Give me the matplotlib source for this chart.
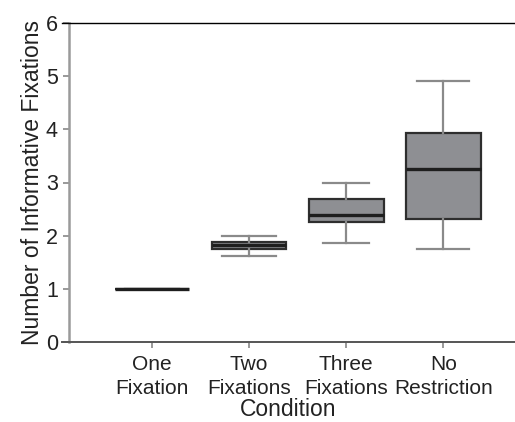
import matplotlib
matplotlib.use("Agg")
import matplotlib.pyplot as plt

# condition names and box statistics
conditions = ["One\nFixation", "Two\nFixations", "Three\nFixations", "No\nRestriction"]
whisker_lo = [1.00, 1.62, 1.87, 1.75]
q1 = [1.00, 1.75, 2.26, 2.32]
median = [1.00, 1.83, 2.39, 3.25]
q3 = [1.00, 1.89, 2.69, 3.94]
whisker_hi = [1.00, 2.00, 2.99, 4.90]

plt.rcParams['font.family'] = ['Liberation Sans', 'DejaVu Sans']

fig = plt.figure(figsize=(5.15, 4.22), dpi=100)
ax = fig.add_axes([62 / 515, 1 - 342 / 422, 1 - 62 / 515, (342 - 23) / 422])

stats = []
for i in range(len(conditions)):
    stats.append({"whislo": whisker_lo[i], "q1": q1[i], "med": median[i],
                  "q3": q3[i], "whishi": whisker_hi[i], "fliers": []})

pos = list(range(1, len(conditions) + 1))
ax.bxp(stats, positions=pos, widths=0.77, patch_artist=True, showfliers=False,
       boxprops=dict(facecolor="#8e8f93", edgecolor="#2e2e2e", linewidth=1.6),
       medianprops=dict(color="#1e1e1e", linewidth=2.4),
       whiskerprops=dict(color="#8a8a8a", linewidth=1.6),
       capprops=dict(color="#8a8a8a", linewidth=1.6),
       capwidths=[0.55, 0.55, 0.48, 0.53])

ax.set_xlim(0.072, 4.74)
ax.set_ylim(0, 6)
ax.set_xticks(pos)
ax.set_xticklabels(conditions, fontsize=15, color="#222222", linespacing=1.35)
ax.set_yticks(range(0, 7))
ax.tick_params(axis="y", labelsize=15.5, colors="#222222", length=4, color="#888888", width=1.2, pad=4)
ax.tick_params(axis="x", length=4, color="#888888", width=1.2, pad=5)

ax.spines["left"].set_position(("data", 0.144))
ax.spines["left"].set_color("#9a9a9a")
ax.spines["left"].set_linewidth(1.8)
ax.spines["right"].set_visible(False)
ax.spines["top"].set_color("black")
ax.spines["top"].set_linewidth(1.0)
ax.spines["bottom"].set_color("#555555")
ax.spines["bottom"].set_linewidth(1.4)

ax.set_xlabel("Condition", fontsize=16.5, labelpad=0, color="#222222")
ax.set_ylabel("Number of Informative Fixations", fontsize=16.5, color="#222222", labelpad=1)

fig.savefig("out.png", dpi=100)
